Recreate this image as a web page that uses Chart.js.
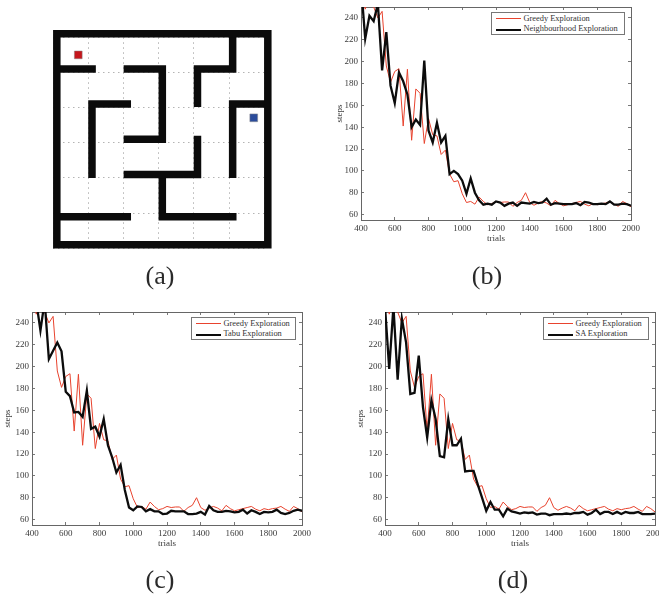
<!DOCTYPE html>
<html><head><meta charset="utf-8">
<script src="https://cdn.jsdelivr.net/npm/chart.js@4"></script>
<style>
html,body{margin:0;padding:0;background:#fff;width:659px;height:594px;overflow:hidden}
#page{position:absolute;left:0;top:0;width:659px;height:594px;overflow:hidden;filter:blur(0.45px)}
canvas{position:absolute}
.cap{position:absolute;font:26px "Liberation Serif",serif;color:#2a2a2a;transform:translate(-50%,-50%);white-space:nowrap}
.leg{position:absolute;box-sizing:border-box;border:1px solid #777;background:#fff;font:8.4px "Liberation Serif",serif;color:#333;padding:0.5px 0 0 4px;height:23px}
.leg div{height:10.7px;line-height:10.7px;white-space:nowrap;display:flex;align-items:center}
.leg i{display:block;flex:none;width:25px;margin-right:2.5px}
</style></head><body><div id="page"></div>
<script>
const trials=[400,425,450,475,500,525,550,575,600,625,650,675,700,725,750,775,800,825,850,875,900,925,950,975,1000,1025,1050,1075,1100,1125,1150,1175,1200,1225,1250,1275,1300,1325,1350,1375,1400,1425,1450,1475,1500,1525,1550,1575,1600,1625,1650,1675,1700,1725,1750,1775,1800,1825,1850,1875,1900,1925,1950,1975,2000];
const greedy=[270,248,262,250,240,246,196,181,191,193.5,141,193,128,175,171,125,148,133,132,115,119,97,90,91,79,71,72,69.5,76,72,69,70,72,71,71.5,71.5,67.5,71,73,80,71,68.5,70.5,72,70.5,68,73,70,68,69,70,71,72,69.5,68,70,69,70,70.5,72,69.5,67.5,72,70,67];
const neighbourhood=[270,221,242,237,253,192,227,178,162,190,182,170,140,147,142,201,137,126,144,126,132,97,100,97,91,79,93,80,73,69,70,69,72,71,68,70,71,68,71,70.5,70,71.5,70.5,71,74.5,69,70.5,70,69.5,69.5,69.5,70.5,68.5,71.5,71,69.5,69.5,70,69.5,72,69,69,70,69.5,68];
const tabu=[275,260,233,260,207,214.5,222,214,177,173,158,158.5,154,178,143,145,136,152,128,117,103,110,87,71,68.5,72,71.5,67.5,69.5,67.5,67.5,65,65.5,68,67.5,67.5,67.5,65,65,65.5,67,64.5,72.5,68.5,67,67,68,67.5,66.5,67,69,65.5,68.5,67,65,67,66.5,67,69,66,65,66,68,69,68];
const sa=[255,198,255,188,244,222,175,176,210,163,135,169,152,118,117,152,128,128,134,104,104.5,104.5,92,80,68,76,69,69,63,70,67.5,66.5,65.5,66.5,66,66.5,64.5,65.5,65.5,64,65,65,65,65.5,65,66,66,67,64.5,66,69,65,67,67,65,67,65,67,66,66,67,65,65,65,65.5];
const xTicks=[400,600,800,1000,1200,1400,1600,1800,2000];
const yTicks=[60,80,100,120,140,160,180,200,220,240];
const xRange=[400,2000];
const yRange=[55,250];
const greedyName="Greedy Exploration";
const panelNames=["Neighbourhood Exploration","Tabu Exploration","SA Exploration"];
const captions=["(a)","(b)","(c)","(d)"];
const mazeRange=[0,6];
const mazeTicks=[0,1,2,3,4,5,6];
const mazeOuter=[[0.1,0.1],[0.1,6.1],[6.1,6.1],[6.1,0.1],[0.1,0.1]];
const mazeWalls=[
 [[0.1,5.1],[1.21,5.1]],
 [[2,5.1],[3.1,5.1],[3.1,3.1],[2,3.1]],
 [[5.1,6.1],[5.1,5.1],[4.1,5.1],[4.1,4.02]],
 [[2.21,4.1],[1.1,4.1],[1.1,2]],
 [[6.1,4.1],[5.1,4.1],[5.1,2]],
 [[4.1,3.2],[4.1,2.1],[2,2.1]],
 [[3.1,2.1],[3.1,0.9],[5.21,0.9]],
 [[0.1,0.9],[2.21,0.9]]
];
const startCell=[0.71,5.5];
const goalCell=[5.7,3.71];

const page=document.getElementById('page');
const F='"Liberation Serif",serif';
const TXT='#3a3a3a';
function addCanvas(l,t,w,h){const c=document.createElement('canvas');c.width=w;c.height=h;c.style.left=l+'px';c.style.top=t+'px';c.style.width=w+'px';c.style.height=h+'px';page.appendChild(c);return c;}
function zeroPad(s){s.paddingTop=0;s.paddingBottom=0;s.paddingLeft=0;s.paddingRight=0;}
function noSize(s){if(s.isHorizontal()){s.height=0;}else{s.width=0;}zeroPad(s);}
function linePanel(l,t,name,vals,legLeft,legTop,legW,titleOffset){
  const plotLeft=30,plotW=270,plotTop=7,plotH=213;
  const c=addCanvas(l,t-7,plotLeft+plotW+30,plotTop+plotH+24);
  const setX=s=>{s.ticks=xTicks.map(v=>({value:v}));};
  const setY=s=>{s.ticks=yTicks.map(v=>({value:v}));};
  const tick={drawOnChartArea:false,tickLength:-3,tickColor:'#555',tickWidth:.8};
  const border={color:'#666',width:1};
  new Chart(c,{type:'line',
    data:{labels:trials,datasets:[
      {label:greedyName,data:trials.map((x,i)=>({x,y:greedy[i]})),borderColor:'#e8432e',borderWidth:1,pointRadius:0,tension:0,order:2},
      {label:name,data:trials.map((x,i)=>({x,y:vals[i]})),borderColor:'#0c0c0c',borderWidth:2.3,pointRadius:0,tension:0,order:1,borderJoinStyle:'miter'}
    ]},
    options:{responsive:false,animation:false,
      layout:{padding:{top:plotTop,right:30,left:0,bottom:0}},
      plugins:{legend:{display:false},tooltip:{enabled:false}},
      scales:{
        x:{type:'linear',position:'bottom',min:xRange[0],max:xRange[1],afterBuildTicks:setX,afterFit:s=>{s.height=24;zeroPad(s);},
           grid:tick,border,
           ticks:{autoSkip:false,maxRotation:0,minRotation:0,padding:6,color:TXT,font:{family:F,size:9},callback:v=>String(v)},
           title:{display:true,text:'trials',color:TXT,font:{family:F,size:9},padding:0}},
        y:{type:'linear',position:'left',min:yRange[0],max:yRange[1],afterBuildTicks:setY,afterFit:s=>{s.width=plotLeft;zeroPad(s);},
           grid:tick,border,
           ticks:{autoSkip:false,padding:6,color:TXT,font:{family:F,size:9},callback:v=>String(v)},
           title:{display:true,text:'steps',color:TXT,font:{family:F,size:9},padding:{top:titleOffset,bottom:0}}},
        x2:{type:'linear',position:'top',min:xRange[0],max:xRange[1],afterBuildTicks:setX,afterFit:noSize,grid:tick,border,ticks:{display:false}},
        y2:{type:'linear',position:'right',min:yRange[0],max:yRange[1],afterBuildTicks:setY,afterFit:noSize,grid:tick,border,ticks:{display:false}}
      }}});
  const leg=document.createElement('div');leg.className='leg';
  leg.style.left=legLeft+'px';leg.style.top=legTop+'px';leg.style.width=legW+'px';
  leg.innerHTML='<div><i style="border-top:1px solid #e8432e"></i>'+greedyName+'</div><div><i style="border-top:2.3px solid #0c0c0c"></i>'+name+'</div>';
  page.appendChild(leg);
}
function mazePanel(){
  const c=addCanvas(40,20,240,240);
  const pts=a=>a.map(p=>({x:p[0],y:p[1]}));
  const wall=(a,cap)=>({data:pts(a),showLine:true,borderColor:'#0b0b0b',borderWidth:7.5,pointRadius:0,tension:0,borderCapStyle:cap,borderJoinStyle:'miter',clip:false});
  const mark=(p,col)=>({data:pts([p]),showLine:false,pointStyle:'rect',pointRadius:5.5,pointBackgroundColor:col,pointBorderColor:'#888',pointBorderWidth:.5,clip:false});
  const grid={color:'#b4b4b4',lineWidth:1,drawTicks:false};
  const border={display:false,dash:[1.5,3.5]};
  const setT=s=>{s.ticks=mazeTicks.map(v=>({value:v}));};
  new Chart(c,{type:'scatter',
    data:{datasets:[mark(startCell,'#c4161c'),mark(goalCell,'#2b4c9b'),wall(mazeOuter,'square'),...mazeWalls.map(w=>wall(w,'butt'))]},
    options:{responsive:false,animation:false,
      layout:{padding:{left:13.3,top:17.3,right:15.7,bottom:11.7}},
      plugins:{legend:{display:false},tooltip:{enabled:false}},
      scales:{
        x:{type:'linear',min:mazeRange[0],max:mazeRange[1],afterBuildTicks:setT,afterFit:noSize,grid,border,ticks:{display:false}},
        y:{type:'linear',min:mazeRange[0],max:mazeRange[1],afterBuildTicks:setT,afterFit:noSize,grid,border,ticks:{display:false}}
      }}});
}
mazePanel();
linePanel(331,7,panelNames[0],neighbourhood,491,12,134,3);
linePanel(2,312,panelNames[1],tabu,191,317,105,0);
linePanel(355,312,panelNames[2],sa,543,317,106,0);
[[160,276],[487,276],[160,580],[513,580]].forEach((p,i)=>{
  const d=document.createElement('div');d.className='cap';d.textContent=captions[i];
  d.style.left=p[0]+'px';d.style.top=p[1]+'px';page.appendChild(d);
});
</script></body></html>
